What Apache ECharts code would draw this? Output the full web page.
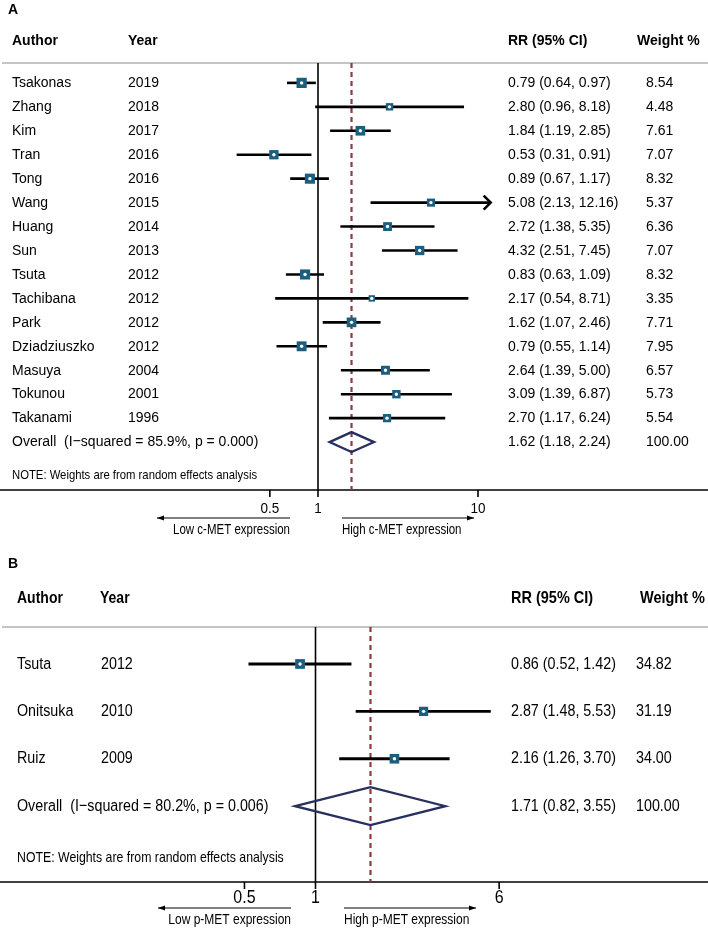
<!DOCTYPE html>
<html><head><meta charset="utf-8">
<script src="https://cdn.jsdelivr.net/npm/echarts@6/dist/echarts.min.js"></script>
<style>html,body{margin:0;padding:0;background:#fff}#c{width:708px;height:929px}</style>
</head><body><div id="c"></div>
<script>
// ---------- Panel A data (c-MET) ----------
const authorsA = ['Tsakonas','Zhang','Kim','Tran','Tong','Wang','Huang','Sun','Tsuta','Tachibana','Park','Dziadziuszko','Masuya','Tokunou','Takanami'];
const yearsA   = [2019,2018,2017,2016,2016,2015,2014,2013,2012,2012,2012,2012,2004,2001,1996];
const rrA      = [0.79,2.80,1.84,0.53,0.89,5.08,2.72,4.32,0.83,2.17,1.62,0.79,2.64,3.09,2.70];
const loA      = [0.64,0.96,1.19,0.31,0.67,2.13,1.38,2.51,0.63,0.54,1.07,0.55,1.39,1.39,1.17];
const hiA      = [0.97,8.18,2.85,0.91,1.17,12.16,5.35,7.45,1.09,8.71,2.46,1.14,5.00,6.87,6.24];
const weightA  = [8.54,4.48,7.61,7.07,8.32,5.37,6.36,7.07,8.32,3.35,7.71,7.95,6.57,5.73,5.54];
const overallA = [1.62,1.18,2.24];
const overallWeightA = 100;
const overallLabelA = 'Overall  (I\u2212squared = 85.9%, p = 0.000)';
const ticksA = [0.5,1,10];
const rangeMaxA = 12;
const lowLabelA = 'Low c-MET expression', highLabelA = 'High c-MET expression';

// ---------- Panel B data (p-MET) ----------
const authorsB = ['Tsuta','Onitsuka','Ruiz'];
const yearsB   = [2012,2010,2009];
const rrB      = [0.86,2.87,2.16];
const loB      = [0.52,1.48,1.26];
const hiB      = [1.42,5.53,3.70];
const weightB  = [34.82,31.19,34.00];
const overallB = [1.71,0.82,3.55];
const overallWeightB = 100;
const overallLabelB = 'Overall  (I\u2212squared = 80.2%, p = 0.006)';
const ticksB = [0.5,1,6];
const rangeMaxB = 40;
const lowLabelB = 'Low p-MET expression', highLabelB = 'High p-MET expression';

const noteText = 'NOTE: Weights are from random effects analysis';

const FONT = '"Liberation Sans", Arial, Helvetica, sans-serif';
const SQUARE = '#1b5e7e', DIAMOND = '#27305e', DASH = '#8c3a40';

const chart = echarts.init(document.getElementById('c'), null, {renderer:'canvas'});

function fmt(v){ return v.toFixed(2); }

function panel(c) {
  const g = c.grid;
  const series = [];
  // reference lines (null line at 1, dashed overall line)
  series.push({
    type:'custom', xAxisIndex:g, yAxisIndex:g, clip:false, silent:true,
    data:[[1,0],[c.overall[0],1]],
    renderItem:(p, api) => {
      const v = api.value(0), dashed = api.value(1) === 1;
      const a = api.coord([v, c.yMin]), b = api.coord([v, c.yMax]);
      return {type:'line', shape:{x1:a[0],y1:a[1],x2:b[0],y2:b[1]},
        style: dashed ? {stroke:DASH, lineWidth:2.2, lineDash:[5,4]} : {stroke:'#000', lineWidth:1.6}};
    }
  });
  // studies: CI lines + weighted squares
  series.push({
    type:'custom', xAxisIndex:g, yAxisIndex:g, clip:false, silent:true,
    data: c.rr.map((v,i)=>[v, i, c.lo[i], c.hi[i], c.w[i]]),
    encode:{x:0, y:1},
    renderItem:(p, api) => {
      const v = api.value(0), i = api.value(1), l = api.value(2), h = api.value(3), wt = api.value(4);
      const hs = Math.min(h, c.rangeMax);
      const pc = api.coord([v, i]), pl = api.coord([l, i]), ph = api.coord([hs, i]);
      const s = c.sq * Math.sqrt(wt);
      const ch = [
        {type:'line', shape:{x1:pl[0],y1:pc[1],x2:ph[0],y2:pc[1]}, style:{stroke:'#000', lineWidth:c.lw}},
        {type:'rect', shape:{x:pc[0]-s/2,y:pc[1]-s/2,width:s,height:s}, style:{fill:SQUARE}},
        {type:'circle', shape:{cx:pc[0],cy:pc[1],r:1.7}, style:{fill:'#fff'}}
      ];
      if (h > c.rangeMax) {
        ch.push({type:'polyline', shape:{points:[[ph[0]-7,pc[1]-7],[ph[0],pc[1]],[ph[0]-7,pc[1]+7]]},
          style:{stroke:'#000', lineWidth:c.lw, fill:null}});
      }
      return {type:'group', children:ch};
    }
  });
  // overall diamond
  series.push({
    type:'custom', xAxisIndex:g, yAxisIndex:g, clip:false, silent:true,
    data:[[c.overall[0], c.n, c.overall[1], c.overall[2]]],
    encode:{x:0, y:1},
    renderItem:(p, api) => {
      const i = api.value(1);
      const pc = api.coord([api.value(0), i]), pl = api.coord([api.value(2), i]), ph = api.coord([api.value(3), i]);
      const hh = c.diamondH;
      return {type:'polygon', shape:{points:[[pl[0],pc[1]],[pc[0],pc[1]-hh],[ph[0],pc[1]],[pc[0],pc[1]+hh]]},
        style:{fill:null, stroke:DIAMOND, lineWidth:2.3}};
    }
  });
  // row texts
  const rows = c.authors.map((a,i)=>[i, a, String(c.years[i]), fmt(c.rr[i])+' ('+fmt(c.lo[i])+', '+fmt(c.hi[i])+')', fmt(c.w[i])]);
  rows.push([c.n, c.overallLabel, '', fmt(c.overall[0])+' ('+fmt(c.overall[1])+', '+fmt(c.overall[2])+')', fmt(c.overallWeight)]);
  series.push({
    type:'custom', xAxisIndex:g, yAxisIndex:g, clip:false, silent:true,
    data: rows.map(r=>[1, r[0]]),
    encode:{x:0, y:1},
    renderItem:(p, api) => {
      const r = rows[p.dataIndex];
      const y = api.coord([1, r[0]])[1];
      const mk = (x, t) => ({type:'text', x:x, y:y, scaleY:c.sy,
        style:{text:t, fill:'#000', font:c.fs+'px '+FONT, align:'left', verticalAlign:'middle'}});
      const ch = [mk(c.xAuthor, r[1]), mk(c.xRR, r[3]), mk(c.xW, r[4])];
      if (r[2]) ch.push(mk(c.xYear, r[2]));
      return {type:'group', children:ch};
    }
  });
  // note
  series.push({
    type:'custom', xAxisIndex:g, yAxisIndex:g, clip:false, silent:true,
    data:[[1, c.noteRow]],
    encode:{x:0, y:1},
    renderItem:(p, api) => {
      const y = api.coord([1, c.noteRow])[1];
      return {type:'text', x:c.xAuthor, y:y, scaleY:c.sy,
        style:{text:noteText, fill:'#000', font:c.noteFs+'px '+FONT, align:'left', verticalAlign:'middle'}};
    }
  });
  // ticks and tick labels
  series.push({
    type:'custom', xAxisIndex:g, yAxisIndex:g, clip:false, silent:true,
    data: c.ticks.map(t=>[t, c.yMax]),
    encode:{x:0, y:1},
    renderItem:(p, api) => {
      const t = api.value(0);
      const pt = api.coord([t, c.yMax]);
      return {type:'group', children:[
        {type:'line', shape:{x1:pt[0],y1:pt[1],x2:pt[0],y2:pt[1]+7}, style:{stroke:'#000', lineWidth:1.6}},
        {type:'text', x:pt[0], y:pt[1]+c.tickDy, scaleY:c.sy,
          style:{text:String(t), fill:'#000', font:c.tickFs+'px '+FONT, align:'center', verticalAlign:'middle'}}
      ]};
    }
  });
  return series;
}

const A = {grid:0, authors:authorsA, years:yearsA, rr:rrA, lo:loA, hi:hiA, w:weightA, overall:overallA,
  overallWeight:overallWeightA, overallLabel:overallLabelA, ticks:ticksA, rangeMax:rangeMaxA,
  n:authorsA.length, yMin:-0.83, yMax:17.0, noteRow:16.4, sq:3.5, lw:2.6, diamondH:10,
  fs:14, sy:1.1, noteFs:11.3, tickFs:13.5, tickDy:19, xAuthor:12, xYear:128, xRR:508, xW:646};
const B = {grid:1, authors:authorsB, years:yearsB, rr:rrB, lo:loB, hi:hiB, w:weightB, overall:overallB,
  overallWeight:overallWeightB, overallLabel:overallLabelB, ticks:ticksB, rangeMax:rangeMaxB,
  n:authorsB.length, yMin:-0.78, yMax:4.6, noteRow:4.09, sq:1.65, lw:2.9, diamondH:19,
  fs:14.3, sy:1.18, noteFs:12.3, tickFs:16, tickDy:16, xAuthor:17, xYear:101, xRR:511, xW:636};

const pxA = {x1:318, k:160}, pxB = {x1:315.5, k:236};
const W = 708;

function arrowGraphic(x1, x2, y) {
  const dir = x2 > x1 ? 1 : -1;
  return [
    {type:'line', shape:{x1:x1,y1:y,x2:x2,y2:y}, style:{stroke:'#000', lineWidth:1}},
    {type:'polygon', shape:{points:[[x2,y],[x2-dir*7,y-2.5],[x2-dir*7,y+2.5]]}, style:{fill:'#000'}}
  ];
}
function txt(x, y, t, size, bold, sy, align) {
  return {type:'text', x:x, y:y, scaleY:sy||1,
    style:{text:t, fill:'#000', font:(bold?'bold ':'')+size+'px '+FONT, align:align||'left', verticalAlign:'middle'}};
}

const graphics = [
  txt(8, 10, 'A', 14, true, 1.1),
  txt(12, 41, 'Author', 14, true, 1.1), txt(128, 41, 'Year', 14, true, 1.1),
  txt(508, 41, 'RR (95% CI)', 14, true, 1.1), txt(637, 41, 'Weight %', 14, true, 1.1),
  {type:'line', shape:{x1:2,y1:63,x2:708,y2:63}, style:{stroke:'#c4c4c4', lineWidth:2}},
  ...arrowGraphic(290, 157, 518), ...arrowGraphic(342, 474, 518),
  txt(290, 530, lowLabelA, 11.5, false, 1.2, 'right'), txt(342, 530, highLabelA, 11.5, false, 1.2, 'left'),

  txt(8, 564, 'B', 14, true, 1.1),
  txt(17, 598, 'Author', 14, true, 1.18), txt(100, 598, 'Year', 14, true, 1.18),
  txt(511, 598, 'RR (95% CI)', 14.5, true, 1.18), txt(640, 598, 'Weight %', 14.5, true, 1.18),
  {type:'line', shape:{x1:2,y1:627,x2:708,y2:627}, style:{stroke:'#c4c4c4', lineWidth:2}},
  ...arrowGraphic(291, 158, 908), ...arrowGraphic(344, 476, 908),
  txt(291, 920, lowLabelB, 12, false, 1.2, 'right'), txt(344, 920, highLabelB, 12, false, 1.2, 'left')
];

const xAxisBase = {type:'log', logBase:10, splitLine:{show:false}, axisTick:{show:false}, axisLabel:{show:false},
  axisLine:{show:true, onZero:false, lineStyle:{color:'#000', width:1.6}}, position:'bottom'};

const option = {
  animation:false,
  backgroundColor:'#fff',
  grid:[
    {left:0, right:0, top:63, height:427},
    {left:0, right:0, top:627, height:255}
  ],
  xAxis:[
    Object.assign({}, xAxisBase, {gridIndex:0, min:Math.pow(10, -pxA.x1/pxA.k), max:Math.pow(10, (W-pxA.x1)/pxA.k)}),
    Object.assign({}, xAxisBase, {gridIndex:1, min:Math.pow(10, -pxB.x1/pxB.k), max:Math.pow(10, (W-pxB.x1)/pxB.k)})
  ],
  yAxis:[
    {type:'value', gridIndex:0, inverse:true, min:A.yMin, max:A.yMax, show:false},
    {type:'value', gridIndex:1, inverse:true, min:B.yMin, max:B.yMax, show:false}
  ],
  graphic:graphics,
  series:[...panel(A), ...panel(B)]
};
chart.setOption(option);
</script>
</body></html>
